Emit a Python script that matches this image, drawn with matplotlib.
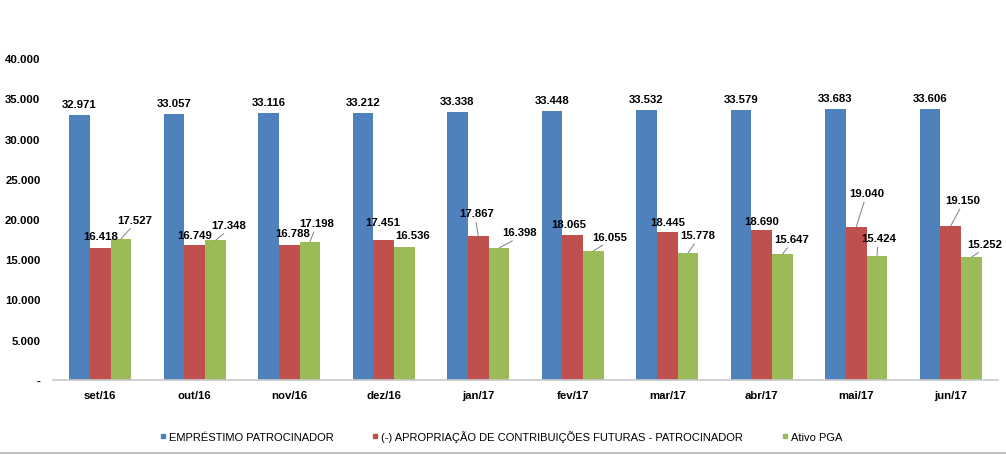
import matplotlib
matplotlib.use("Agg")
import matplotlib.pyplot as plt
import numpy as np
from matplotlib.lines import Line2D

# ---- data ----
categories = ["set/16", "out/16", "nov/16", "dez/16", "jan/17", "fev/17",
              "mar/17", "abr/17", "mai/17", "jun/17"]
emprestimo = [32971, 33057, 33116, 33212, 33338, 33448, 33532, 33579, 33683, 33606]
apropriacao = [16418, 16749, 16788, 17451, 17867, 18065, 18445, 18690, 19040, 19150]
ativo_pga = [17527, 17348, 17198, 16536, 16398, 16055, 15778, 15647, 15424, 15252]
series_names = ["EMPRÉSTIMO PATROCINADOR",
                "(-) APROPRIAÇÃO DE CONTRIBUIÇÕES FUTURAS - PATROCINADOR",
                "Ativo PGA"]
yticks = [0, 5000, 10000, 15000, 20000, 25000, 30000, 35000, 40000]
ytick_labels = ["-", "5.000", "10.000", "15.000", "20.000", "25.000",
                "30.000", "35.000", "40.000"]

# ---- style ----
colors = ["#4F81BD", "#C0504D", "#9BBB59"]
# label offsets in pixels (dx, dy) from bar top centre, and leader flag
red_off = [(0, 11.5), (0, 10.5), (3, 11.6), (-0.7, 18), (-1.8, 23), (-3.7, 10.6),
           (0.8, 10), (-0.3, 8.6), (10.2, 33.7), (12.3, 25.8)]
red_lead = [False, False, False, False, True, False, False, False, True, True]
green_off = [(13.7, 19.2), (13.5, 15.3), (6.4, 18.6), (8.5, 11.9), (20.7, 15.7),
             (16.2, 14.1), (10, 18), (8.9, 15), (2, 17.8), (13.2, 13.2)]
green_lead = [True, True, True, False, True, True, True, True, True, True]

plt.rcParams['font.family'] = ['Liberation Sans', 'DejaVu Sans']

fig = plt.figure(figsize=(10.06, 4.56), dpi=100)
ax = fig.add_axes([53 / 1006, 1 - 381 / 456, 945 / 1006, 322 / 456])

x = np.arange(len(categories))
w = 0.22
allvals = [emprestimo, apropriacao, ativo_pga]
for i, (vals, c, name) in enumerate(zip(allvals, colors, series_names)):
    ax.bar(x + (i - 1) * w, vals, width=w, color=c, label=name, zorder=2)


def fmt(v):
    return f"{v:,}".replace(",", ".")


lab_kw = dict(fontsize=8.2, fontweight='bold', ha='center', va='center',
              textcoords='offset pixels', color='black', zorder=5)
for j in range(len(categories)):
    ax.annotate(fmt(emprestimo[j]), (x[j] - w, emprestimo[j]), xytext=(0, 11), **lab_kw)
    for vals, offs, leads, k in ((apropriacao, red_off, red_lead, 0),
                                 (ativo_pga, green_off, green_lead, 1)):
        dx, dy = offs[j]
        ap = None
        if leads[j]:
            ap = dict(arrowstyle='-', color='#7f7f7f', lw=0.7, shrinkA=1,
                      shrinkB=0, relpos=(0.47, 0.0))
        ax.annotate(fmt(vals[j]), (x[j] + k * w, vals[j]), xytext=(dx, dy),
                    arrowprops=ap, **lab_kw)

ax.set_xlim(-0.5, len(categories) - 0.5)
ax.set_ylim(0, 40000)
ax.set_yticks(yticks)
ax.set_yticklabels(ytick_labels, fontsize=8.2, fontweight='bold')
ax.set_xticks(x)
ax.set_xticklabels(categories, fontsize=8.2, fontweight='bold')
ax.tick_params(axis='y', length=0, pad=9)
ax.tick_params(axis='x', length=0, pad=7)
for s in ['top', 'right', 'left']:
    ax.spines[s].set_visible(False)
ax.spines['bottom'].set_color('#c8c8c8')
ax.spines['bottom'].set_linewidth(1.2)

handles = [Line2D([], [], marker='s', linestyle='none', color=c, markersize=3.5)
           for c in colors]
fig.legend(handles, series_names, loc='center',
           bbox_to_anchor=(0.498, 1 - 437 / 456), ncol=3, frameon=False,
           fontsize=8, handlelength=0.5, handletextpad=0.3, columnspacing=3.5,
           borderaxespad=0, borderpad=0)

fig.add_artist(Line2D([0, 1], [1 - 453.5 / 456] * 2, color='#c0c0c0', lw=1.5,
                      transform=fig.transFigure))

fig.savefig("out.png", dpi=100)
